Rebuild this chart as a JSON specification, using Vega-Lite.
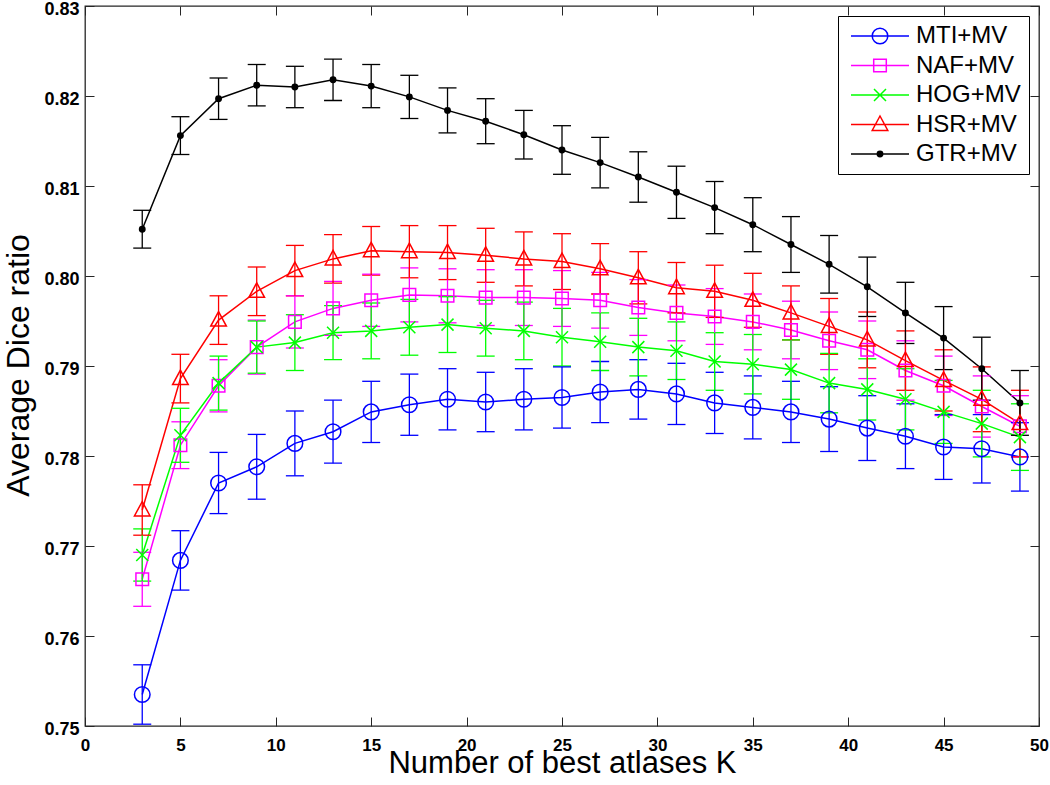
{
  "$schema": "https://vega.github.io/schema/vega-lite/v6.json",
  "width": 954,
  "height": 720,
  "autosize": {"type": "none"},
  "padding": {"left": 85, "top": 6, "right": 11, "bottom": 59},
  "background": "white",
  "config": {
    "view": {"stroke": "#262626", "strokeWidth": 1.3},
    "font": "Liberation Sans"
  },
  "data": {
    "values": [
      {"m":"MTI+MV","K":3,"dice":0.7535,"err":0.0033},{"m":"MTI+MV","K":5,"dice":0.7684,"err":0.0033},{"m":"MTI+MV","K":7,"dice":0.7770,"err":0.0034},{"m":"MTI+MV","K":9,"dice":0.7788,"err":0.0036},{"m":"MTI+MV","K":11,"dice":0.7814,"err":0.0036},{"m":"MTI+MV","K":13,"dice":0.7827,"err":0.0035},{"m":"MTI+MV","K":15,"dice":0.7849,"err":0.0034},{"m":"MTI+MV","K":17,"dice":0.7857,"err":0.0034},{"m":"MTI+MV","K":19,"dice":0.7863,"err":0.0034},{"m":"MTI+MV","K":21,"dice":0.7860,"err":0.0033},{"m":"MTI+MV","K":23,"dice":0.7863,"err":0.0034},{"m":"MTI+MV","K":25,"dice":0.7865,"err":0.0034},{"m":"MTI+MV","K":27,"dice":0.7871,"err":0.0034},{"m":"MTI+MV","K":29,"dice":0.7874,"err":0.0033},{"m":"MTI+MV","K":31,"dice":0.7869,"err":0.0034},{"m":"MTI+MV","K":33,"dice":0.7859,"err":0.0034},{"m":"MTI+MV","K":35,"dice":0.7854,"err":0.0035},{"m":"MTI+MV","K":37,"dice":0.7849,"err":0.0034},{"m":"MTI+MV","K":39,"dice":0.7841,"err":0.0036},{"m":"MTI+MV","K":41,"dice":0.7831,"err":0.0036},{"m":"MTI+MV","K":43,"dice":0.7822,"err":0.0036},{"m":"MTI+MV","K":45,"dice":0.7810,"err":0.0036},{"m":"MTI+MV","K":47,"dice":0.7808,"err":0.0038},{"m":"MTI+MV","K":49,"dice":0.7799,"err":0.0038},
      {"m":"NAF+MV","K":3,"dice":0.7663,"err":0.0030},{"m":"NAF+MV","K":5,"dice":0.7812,"err":0.0026},{"m":"NAF+MV","K":7,"dice":0.7878,"err":0.0029},{"m":"NAF+MV","K":9,"dice":0.7921,"err":0.0030},{"m":"NAF+MV","K":11,"dice":0.7949,"err":0.0029},{"m":"NAF+MV","K":13,"dice":0.7964,"err":0.0030},{"m":"NAF+MV","K":15,"dice":0.7973,"err":0.0029},{"m":"NAF+MV","K":17,"dice":0.7979,"err":0.0030},{"m":"NAF+MV","K":19,"dice":0.7978,"err":0.0030},{"m":"NAF+MV","K":21,"dice":0.7976,"err":0.0031},{"m":"NAF+MV","K":23,"dice":0.7976,"err":0.0031},{"m":"NAF+MV","K":25,"dice":0.7975,"err":0.0031},{"m":"NAF+MV","K":27,"dice":0.7973,"err":0.0031},{"m":"NAF+MV","K":29,"dice":0.7965,"err":0.0031},{"m":"NAF+MV","K":31,"dice":0.7959,"err":0.0031},{"m":"NAF+MV","K":33,"dice":0.7955,"err":0.0031},{"m":"NAF+MV","K":35,"dice":0.7949,"err":0.0031},{"m":"NAF+MV","K":37,"dice":0.7940,"err":0.0032},{"m":"NAF+MV","K":39,"dice":0.7928,"err":0.0032},{"m":"NAF+MV","K":41,"dice":0.7918,"err":0.0032},{"m":"NAF+MV","K":43,"dice":0.7895,"err":0.0033},{"m":"NAF+MV","K":45,"dice":0.7878,"err":0.0033},{"m":"NAF+MV","K":47,"dice":0.7855,"err":0.0034},{"m":"NAF+MV","K":49,"dice":0.7833,"err":0.0034},
      {"m":"HOG+MV","K":3,"dice":0.7690,"err":0.0029},{"m":"HOG+MV","K":5,"dice":0.7823,"err":0.0030},{"m":"HOG+MV","K":7,"dice":0.7881,"err":0.0030},{"m":"HOG+MV","K":9,"dice":0.7921,"err":0.0029},{"m":"HOG+MV","K":11,"dice":0.7926,"err":0.0031},{"m":"HOG+MV","K":13,"dice":0.7937,"err":0.0030},{"m":"HOG+MV","K":15,"dice":0.7939,"err":0.0031},{"m":"HOG+MV","K":17,"dice":0.7943,"err":0.0031},{"m":"HOG+MV","K":19,"dice":0.7946,"err":0.0031},{"m":"HOG+MV","K":21,"dice":0.7942,"err":0.0031},{"m":"HOG+MV","K":23,"dice":0.7939,"err":0.0032},{"m":"HOG+MV","K":25,"dice":0.7932,"err":0.0032},{"m":"HOG+MV","K":27,"dice":0.7927,"err":0.0032},{"m":"HOG+MV","K":29,"dice":0.7921,"err":0.0032},{"m":"HOG+MV","K":31,"dice":0.7917,"err":0.0032},{"m":"HOG+MV","K":33,"dice":0.7905,"err":0.0032},{"m":"HOG+MV","K":35,"dice":0.7902,"err":0.0033},{"m":"HOG+MV","K":37,"dice":0.7896,"err":0.0033},{"m":"HOG+MV","K":39,"dice":0.7881,"err":0.0033},{"m":"HOG+MV","K":41,"dice":0.7874,"err":0.0034},{"m":"HOG+MV","K":43,"dice":0.7863,"err":0.0034},{"m":"HOG+MV","K":45,"dice":0.7849,"err":0.0035},{"m":"HOG+MV","K":47,"dice":0.7836,"err":0.0037},{"m":"HOG+MV","K":49,"dice":0.7821,"err":0.0037},
      {"m":"HSR+MV","K":3,"dice":0.7740,"err":0.0028},{"m":"HSR+MV","K":5,"dice":0.7886,"err":0.0027},{"m":"HSR+MV","K":7,"dice":0.7951,"err":0.0027},{"m":"HSR+MV","K":9,"dice":0.7983,"err":0.0027},{"m":"HSR+MV","K":11,"dice":0.8006,"err":0.0028},{"m":"HSR+MV","K":13,"dice":0.8019,"err":0.0027},{"m":"HSR+MV","K":15,"dice":0.8028,"err":0.0027},{"m":"HSR+MV","K":17,"dice":0.8027,"err":0.0029},{"m":"HSR+MV","K":19,"dice":0.8026,"err":0.0030},{"m":"HSR+MV","K":21,"dice":0.8023,"err":0.0030},{"m":"HSR+MV","K":23,"dice":0.8019,"err":0.0030},{"m":"HSR+MV","K":25,"dice":0.8016,"err":0.0031},{"m":"HSR+MV","K":27,"dice":0.8008,"err":0.0028},{"m":"HSR+MV","K":29,"dice":0.7998,"err":0.0029},{"m":"HSR+MV","K":31,"dice":0.7987,"err":0.0028},{"m":"HSR+MV","K":33,"dice":0.7983,"err":0.0029},{"m":"HSR+MV","K":35,"dice":0.7973,"err":0.0030},{"m":"HSR+MV","K":37,"dice":0.7959,"err":0.0030},{"m":"HSR+MV","K":39,"dice":0.7944,"err":0.0031},{"m":"HSR+MV","K":41,"dice":0.7929,"err":0.0031},{"m":"HSR+MV","K":43,"dice":0.7906,"err":0.0033},{"m":"HSR+MV","K":45,"dice":0.7884,"err":0.0034},{"m":"HSR+MV","K":47,"dice":0.7863,"err":0.0036},{"m":"HSR+MV","K":49,"dice":0.7836,"err":0.0037},
      {"m":"GTR+MV","K":3,"dice":0.8052,"err":0.0021},{"m":"GTR+MV","K":5,"dice":0.8156,"err":0.0021},{"m":"GTR+MV","K":7,"dice":0.8197,"err":0.0023},{"m":"GTR+MV","K":9,"dice":0.8212,"err":0.0023},{"m":"GTR+MV","K":11,"dice":0.8210,"err":0.0023},{"m":"GTR+MV","K":13,"dice":0.8218,"err":0.0023},{"m":"GTR+MV","K":15,"dice":0.8211,"err":0.0024},{"m":"GTR+MV","K":17,"dice":0.8199,"err":0.0024},{"m":"GTR+MV","K":19,"dice":0.8184,"err":0.0025},{"m":"GTR+MV","K":21,"dice":0.8172,"err":0.0025},{"m":"GTR+MV","K":23,"dice":0.8157,"err":0.0027},{"m":"GTR+MV","K":25,"dice":0.8140,"err":0.0027},{"m":"GTR+MV","K":27,"dice":0.8126,"err":0.0028},{"m":"GTR+MV","K":29,"dice":0.8110,"err":0.0028},{"m":"GTR+MV","K":31,"dice":0.8093,"err":0.0029},{"m":"GTR+MV","K":33,"dice":0.8076,"err":0.0029},{"m":"GTR+MV","K":35,"dice":0.8057,"err":0.0030},{"m":"GTR+MV","K":37,"dice":0.8035,"err":0.0031},{"m":"GTR+MV","K":39,"dice":0.8013,"err":0.0032},{"m":"GTR+MV","K":41,"dice":0.7988,"err":0.0033},{"m":"GTR+MV","K":43,"dice":0.7959,"err":0.0034},{"m":"GTR+MV","K":45,"dice":0.7931,"err":0.0035},{"m":"GTR+MV","K":47,"dice":0.7897,"err":0.0035},{"m":"GTR+MV","K":49,"dice":0.7859,"err":0.0036}
    ]
  },
  "resolve": {"axis": {"x": "independent", "y": "independent"}},
  "layer": [
    {
      "mark": {"type": "line", "strokeWidth": 1.5},
      "encoding": {
        "x": {"field": "K", "type": "quantitative",
          "scale": {"domain": [0, 50], "nice": false, "zero": false},
          "axis": {"orient": "bottom", "values": [0,5,10,15,20,25,30,35,40,45,50], "format": "d",
            "tickSize": -9, "tickColor": "#262626", "tickWidth": 1, "labelPadding": 20, "labelFlush": false,
            "labelFont": "Liberation Sans", "labelFontSize": 17, "labelFontWeight": "bold", "labelColor": "black",
            "grid": false, "domain": false,
            "title": "Number of best atlases K", "titleFont": "Liberation Sans", "titleFontSize": 31,
            "titleFontWeight": "normal", "titleColor": "black", "titleBaseline": "alphabetic", "titleY": 46, "titleX": 477}},
        "y": {"field": "dice", "type": "quantitative",
          "scale": {"domain": [0.75, 0.83], "nice": false, "zero": false},
          "axis": {"orient": "left", "values": [0.75,0.76,0.77,0.78,0.79,0.8,0.81,0.82,0.83], "format": ".2f",
            "tickSize": -9, "tickColor": "#262626", "tickWidth": 1, "labelPadding": 15, "labelFlush": false,
            "labelOffset": 3,
            "labelFont": "Liberation Sans", "labelFontSize": 18, "labelFontWeight": "bold", "labelColor": "black",
            "grid": false, "domain": false,
            "title": "Average Dice ratio", "titleFont": "Liberation Sans", "titleFontSize": 32,
            "titleFontWeight": "normal", "titleColor": "black", "titleBaseline": "alphabetic", "titleAngle": -90,
            "titleAlign": "center", "titleX": -57, "titleY": 359}},
        "color": {"field": "m", "type": "nominal",
          "scale": {"domain": ["MTI+MV","NAF+MV","HOG+MV","HSR+MV","GTR+MV"],
                    "range": ["#0000ff","#ff00ff","#00ff00","#ff0000","#000000"]},
          "legend": {"orient": "top-right", "offset": 10, "title": null, "padding": 8,
            "strokeColor": "black", "fillColor": "white", "rowPadding": 5.5,
            "symbolSize": 400, "symbolStrokeWidth": 1.5, "symbolOffset": 22, "labelOffset": 24,
            "labelFont": "Liberation Sans", "labelFontSize": 24, "labelColor": "black", "labelLimit": 300,
            "encode": {"symbols": {"update": {
              "shape": {"signal": "datum.value === 'MTI+MV' ? 'M-2.9,0L2.9,0M0.78,0A0.78,0.78,0,1,1,-0.78,0A0.78,0.78,0,1,1,0.78,0Z' : datum.value === 'NAF+MV' ? 'M-2.9,0L2.9,0M-0.63,-0.63L0.63,-0.63L0.63,0.63L-0.63,0.63Z' : datum.value === 'HOG+MV' ? 'M-2.9,0L2.9,0M-0.6,-0.6L0.6,0.6M-0.6,0.6L0.6,-0.6' : datum.value === 'HSR+MV' ? 'M-2.9,0L2.9,0M0,-0.85L0.78,0.6L-0.78,0.6Z' : 'M-2.9,0L2.9,0M0.27,0A0.27,0.27,0,1,1,-0.27,0A0.27,0.27,0,1,1,0.27,0Z'"},
              "fillOpacity": {"signal": "datum.value === 'GTR+MV' ? 1 : 0"},
              "strokeOpacity": {"value": 1},
              "opacity": {"value": 1},
              "strokeWidth": {"value": 1.5}
            }}}}}
      }
    },
    {
      "mark": {"type": "errorbar", "ticks": {"size": 18, "thickness": 1.3, "opacity": 1}, "rule": {"strokeWidth": 1.3, "opacity": 1}},
      "encoding": {
        "x": {"field": "K", "type": "quantitative", "axis": null},
        "y": {"field": "dice", "type": "quantitative", "axis": null},
        "yError": {"field": "err"},
        "color": {"field": "m", "type": "nominal"}
      }
    },
    {
      "mark": {"type": "point", "filled": false, "size": 400, "strokeWidth": 1.5, "opacity": 1},
      "encoding": {
        "x": {"field": "K", "type": "quantitative",
          "axis": {"orient": "top", "values": [0,5,10,15,20,25,30,35,40,45,50], "labels": false, "title": null,
            "tickSize": -9, "tickColor": "#262626", "grid": false, "domain": false}},
        "y": {"field": "dice", "type": "quantitative",
          "axis": {"orient": "right", "values": [0.75,0.76,0.77,0.78,0.79,0.8,0.81,0.82,0.83], "labels": false, "title": null,
            "tickSize": -9, "tickColor": "#262626", "grid": false, "domain": false}},
        "color": {"field": "m", "type": "nominal"},
        "fill": {"field": "m", "type": "nominal", "legend": null,
          "scale": {"domain": ["GTR+MV","MTI+MV","NAF+MV","HOG+MV","HSR+MV"],
                    "range": ["#000000","transparent","transparent","transparent","transparent"]}},
        "shape": {"field": "m", "type": "nominal", "legend": null,
          "scale": {"domain": ["HSR+MV","GTR+MV","MTI+MV","NAF+MV","HOG+MV"],
                    "range": ["M0,-0.85L0.78,0.6L-0.78,0.6Z",
                              "M0.27,0A0.27,0.27,0,1,1,-0.27,0A0.27,0.27,0,1,1,0.27,0Z",
                              "M0.78,0A0.78,0.78,0,1,1,-0.78,0A0.78,0.78,0,1,1,0.78,0Z",
                              "M-0.63,-0.63L0.63,-0.63L0.63,0.63L-0.63,0.63Z",
                              "M-0.6,-0.6L0.6,0.6M-0.6,0.6L0.6,-0.6"]}}
      }
    }
  ]
}
